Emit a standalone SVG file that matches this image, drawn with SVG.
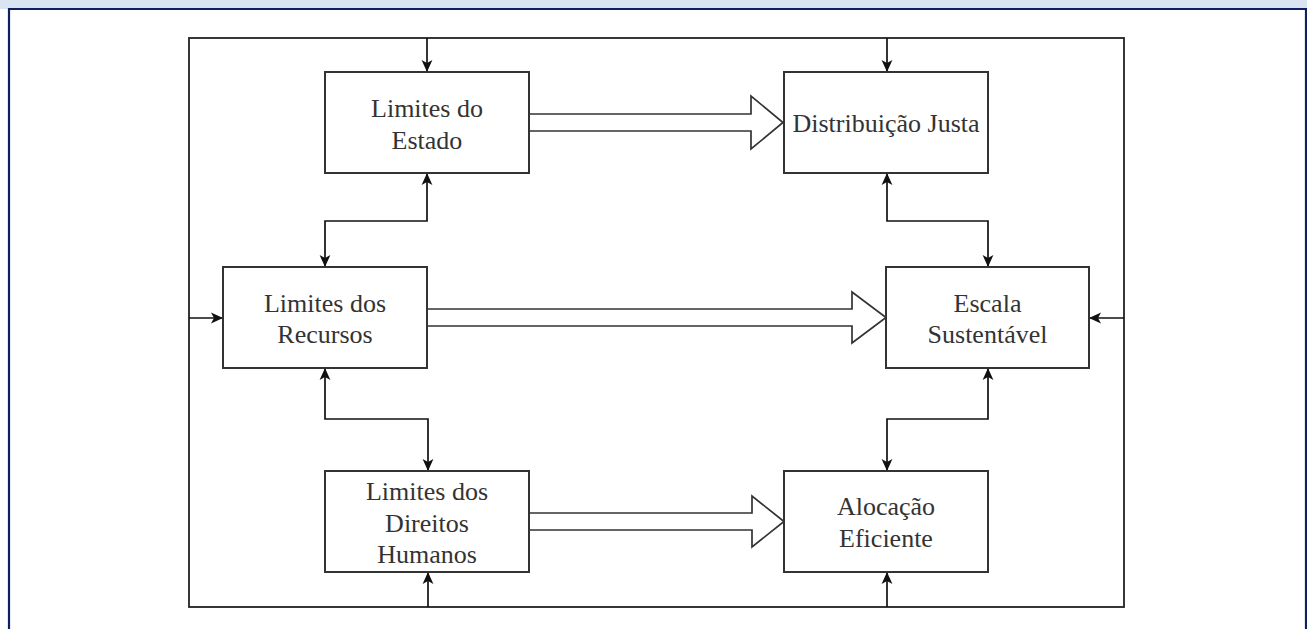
<svg xmlns="http://www.w3.org/2000/svg" width="1307" height="629" viewBox="0 0 1307 629">
<defs>
<style>
.node rect{fill:#fff;stroke:#333;stroke-width:2}
.node text{font-family:'Liberation Serif','DejaVu Serif','Times New Roman',serif;font-size:26px;fill:#333;text-anchor:middle}
.conn path{fill:none;stroke:#111;stroke-width:1.7}
.block{fill:#fff;stroke:#333;stroke-width:1.7;stroke-linejoin:miter}
</style>
<marker id="ah" viewBox="0 0 10 10" refX="10" refY="5" markerWidth="12" markerHeight="12" markerUnits="userSpaceOnUse" orient="auto-start-reverse">
<path d="M0,0.5 L10,5 L0,9.5 L2.5,5 z" fill="#111"/>
</marker>
</defs>
<rect x="0" y="0" width="1307" height="629" fill="#fff"/>
<rect x="0" y="0" width="1307" height="9" fill="#dbe5f1"/>
<path d="M9,629 V9 H1306 V629" fill="none" stroke="#0d2160" stroke-width="2.2"/>
<rect x="189" y="38" width="935" height="569" fill="none" stroke="#222" stroke-width="1.8"/>
<g class="conn">
<path d="M427,38 V72" marker-end="url(#ah)"/>
<path d="M887,38 V72" marker-end="url(#ah)"/>
<path d="M189,318 H223" marker-end="url(#ah)"/>
<path d="M1124,318 H1089" marker-end="url(#ah)"/>
<path d="M428,607 V572" marker-end="url(#ah)"/>
<path d="M887,607 V572" marker-end="url(#ah)"/>
<path d="M427,173 V221 H325 V267" marker-start="url(#ah)" marker-end="url(#ah)"/>
<path d="M325,368 V419 H428 V471" marker-start="url(#ah)" marker-end="url(#ah)"/>
<path d="M887,173 V221 H988 V267" marker-start="url(#ah)" marker-end="url(#ah)"/>
<path d="M988,368 V419 H887 V471" marker-start="url(#ah)" marker-end="url(#ah)"/>
<polygon class="block" points="529,114 751,114 751,96 783,122.5 751,149 751,131 529,131"/>
<polygon class="block" points="427,309 852,309 852,292 886,317.5 852,343 852,326 427,326"/>
<polygon class="block" points="529,513 752,513 752,496 784,521.5 752,547 752,530 529,530"/>
</g>
<g id="estado" class="node">
<rect x="325" y="72" width="204" height="101"/>
<text x="427" y="117" font-family="Liberation Serif">Limites do</text>
<text x="427" y="149" font-family="Liberation Serif">Estado</text>
</g>
<g id="distribuicao" class="node">
<rect x="784" y="72" width="204" height="101"/>
<text x="886" y="132" font-family="Liberation Serif">Distribuição Justa</text>
</g>
<g id="recursos" class="node">
<rect x="223" y="267" width="204" height="101"/>
<text x="325" y="312" font-family="Liberation Serif">Limites dos</text>
<text x="325" y="343" font-family="Liberation Serif">Recursos</text>
</g>
<g id="escala" class="node">
<rect x="886" y="267" width="203" height="101"/>
<text x="987.5" y="312" font-family="Liberation Serif">Escala</text>
<text x="987.5" y="343" font-family="Liberation Serif">Sustentável</text>
</g>
<g id="direitos" class="node">
<rect x="325" y="471" width="204" height="101"/>
<text x="427" y="500" font-family="Liberation Serif">Limites dos</text>
<text x="427" y="532" font-family="Liberation Serif">Direitos</text>
<text x="427" y="563" font-family="Liberation Serif">Humanos</text>
</g>
<g id="alocacao" class="node">
<rect x="784" y="471" width="204" height="101"/>
<text x="886" y="515" font-family="Liberation Serif">Alocação</text>
<text x="886" y="547" font-family="Liberation Serif">Eficiente</text>
</g>
</svg>
